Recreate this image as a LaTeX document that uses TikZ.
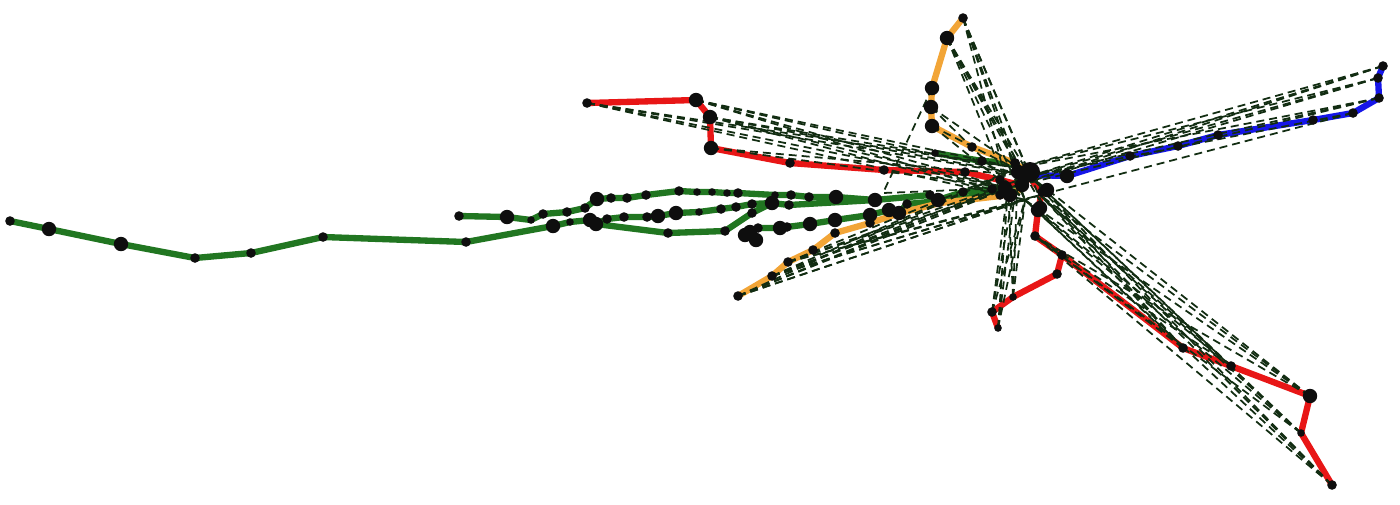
\documentclass[tikz,border=0pt]{standalone}
\begin{document}
\begin{tikzpicture}[x=0.1mm,y=-0.1mm,
  gline/.style={line width=1.8pt,draw={rgb,255:red,33;green,118;blue,33},line join=round},
  rline/.style={line width=1.8pt,draw={rgb,255:red,232;green,22;blue,22},line join=round},
  oline/.style={line width=1.8pt,draw={rgb,255:red,242;green,165;blue,55},line join=round},
  bline/.style={line width=1.8pt,draw={rgb,255:red,22;green,22;blue,232},line join=round},
  dl/.style={line width=0.5pt,draw={rgb,255:red,18;green,45;blue,18},dash pattern=on 0.8mm off 0.5mm}]
\useasboundingbox (0,0) rectangle (1400,504);
% long green
\coordinate (L1) at (10,221); \coordinate (L2) at (49,229); \coordinate (L3) at (121,244);
\coordinate (L4) at (195,258); \coordinate (L5) at (251,253); \coordinate (L6) at (323,237);
\coordinate (L7) at (466,242); \coordinate (L8) at (553,226); \coordinate (L9) at (570,222);
\coordinate (L10) at (590,220); \coordinate (L11) at (596,224); \coordinate (L12) at (668,233);
\coordinate (L13) at (725,231); \coordinate (L14) at (752,213); \coordinate (L15) at (772,203);
% middle green
\coordinate (M2) at (607,219); \coordinate (M3) at (624,217); \coordinate (M4) at (647,217);
\coordinate (M5) at (658,216); \coordinate (M6) at (676,213); \coordinate (M7) at (699,212);
\coordinate (M8) at (721,209); \coordinate (M9) at (736,207); \coordinate (M10) at (752,204);
\coordinate (M11) at (789,205);
% top green
\coordinate (A1) at (459,216); \coordinate (A2) at (507,217); \coordinate (A3) at (531,220);
\coordinate (A4) at (543,214); \coordinate (A5) at (567,212); \coordinate (A6) at (585,208);
\coordinate (A7) at (597,199); \coordinate (A8) at (611,198); \coordinate (A9) at (627,198);
\coordinate (A10) at (646,195); \coordinate (A11) at (679,191); \coordinate (A12) at (697,192);
\coordinate (A13) at (712,192); \coordinate (A14) at (727,193); \coordinate (A15) at (738,193);
\coordinate (A16) at (775,195); \coordinate (A17) at (791,195); \coordinate (A18) at (809,197);
\coordinate (A19) at (836,197); \coordinate (A20) at (875,200); \coordinate (A21) at (930,195);
\coordinate (A22) at (938,200); \coordinate (A23) at (963,192); \coordinate (A24) at (992,189);
\coordinate (A25) at (1015,185);
% lower short green
\coordinate (D0) at (745,235); \coordinate (D1) at (750,232); \coordinate (D1b) at (756,240);
\coordinate (D2) at (758,228); \coordinate (D3) at (780,228); \coordinate (D4) at (787,227);
\coordinate (D5) at (810,224); \coordinate (D6) at (835,220); \coordinate (D7) at (870,215);
\coordinate (D8) at (889,210); \coordinate (D9) at (899,213); \coordinate (D10) at (907,204);
\coordinate (D11) at (950,200); \coordinate (D12) at (1002,193);
% short green top
\coordinate (S1) at (935,153); \coordinate (S2) at (982,161); \coordinate (S3) at (1015,163);
% red upper
\coordinate (R1) at (587,103); \coordinate (R2) at (696,100); \coordinate (R3) at (710,117);
\coordinate (R4) at (711,148); \coordinate (R5) at (790,163); \coordinate (R6) at (884,170);
\coordinate (R7) at (965,172); \coordinate (R8) at (1000,180); \coordinate (R9) at (1020,185);
% red lower
\coordinate (Q1) at (1030,178); \coordinate (Q2) at (1042,192); \coordinate (Q3) at (1038,210);
\coordinate (Q4) at (1035,236); \coordinate (Q5) at (1062,255); \coordinate (Q6) at (1183,348);
\coordinate (Q7) at (1231,366); \coordinate (Q8) at (1310,396); \coordinate (Q9) at (1301,433);
\coordinate (Q10) at (1332,485);
\coordinate (P2) at (1057,274); \coordinate (P3) at (1013,297); \coordinate (P4) at (992,312);
\coordinate (P5) at (998,328);
% blue
\coordinate (U1) at (1030,175); \coordinate (U2) at (1067,176); \coordinate (U3) at (1130,156);
\coordinate (U4) at (1178,146); \coordinate (U5) at (1218,135); \coordinate (U6) at (1313,120);
\coordinate (U7) at (1353,113); \coordinate (U8) at (1379,98); \coordinate (U9) at (1378,78);
\coordinate (U10) at (1383,66);
% orange top
\coordinate (T1) at (963,18); \coordinate (T2) at (947,38); \coordinate (T3) at (932,88);
\coordinate (T4) at (931,107); \coordinate (T5) at (932,126); \coordinate (T6) at (972,147);
\coordinate (T7) at (1015,163);
% orange lower
\coordinate (V1) at (738,296); \coordinate (V2) at (772,276); \coordinate (V3) at (788,262);
\coordinate (V4) at (813,250); \coordinate (V5) at (835,233); \coordinate (V6) at (870,223);
\coordinate (V7) at (900,213); \coordinate (V8) at (940,203); \coordinate (V9) at (1000,196);
\coordinate (V10) at (1020,190);
% hub
\coordinate (H1) at (1030,172); \coordinate (H2) at (1018,172); \coordinate (H3) at (1005,188);
\coordinate (H4) at (1047,190); \coordinate (H5) at (1040,208); \coordinate (H6) at (1022,185);
\coordinate (H7) at (1010,195); \coordinate (H8) at (1000,195);
\coordinate (Ha) at (1018,168); \coordinate (Hb) at (1030,176); \coordinate (Hc) at (1008,188);
\coordinate (Hd) at (1040,195); \coordinate (He) at (1025,200); \coordinate (Hf) at (1045,210);
\coordinate (K) at (883,193);

% coloured lines
\draw[gline] (L1)--(L2)--(L3)--(L4)--(L5)--(L6)--(L7)--(L8)--(L9)--(L10)--(L11)--(L12)--(L13)--(L14)--(L15);
\draw[gline] (L11)--(M2)--(M3)--(M4)--(M5)--(M6)--(M7)--(M8)--(M9)--(M10)--(L15)--(M11)--(A20);
\draw[gline] (A1)--(A2)--(A3)--(A4)--(A5)--(A6)--(A7)--(A8)--(A9)--(A10)--(A11)--(A12)--(A13)--(A14)--(A15)--(A16)--(A17)--(A18)--(A19)--(A20)--(A21)--(A22)--(A23)--(A24)--(A25);
\draw[gline] (D1)--(D2)--(D3)--(D4)--(D5)--(D6)--(D7)--(D8)--(D9)--(D10)--(D11)--(D12);
\draw[gline] (S1)--(S2)--(S3);
\draw[oline] (V1)--(V2)--(V3)--(V4)--(V5)--(V6)--(V7)--(V8)--(V9)--(V10);
\draw[oline] (T1)--(T2)--(T3)--(T4)--(T5)--(T6)--(T7)--(U1);
\draw[rline] (R1)--(R2)--(R3)--(R4)--(R5)--(R6)--(R7)--(R8)--(R9);
\draw[rline] (Q1)--(Q2)--(Q3)--(Q4)--(Q5)--(Q6)--(Q7)--(Q8)--(Q9)--(Q10);
\draw[rline] (Q5)--(P2)--(P3)--(P4)--(P5);
\draw[bline] (U1)--(U2)--(U3)--(U4)--(U5)--(U6)--(U7)--(U8)--(U9)--(U10);

% dashed links
\foreach \s in {U10,U9,U8} \foreach \t in {Ha,Hb,Hc} \draw[dl] (\s)--(\t);
\foreach \t in {Hb,Hd} \draw[dl] (U7)--(\t);
\foreach \s in {R1,R2,R3} \foreach \t in {Ha,Hb,Hc,He} \draw[dl] (\s)--(\t);
\foreach \t in {Hb,Hc} \draw[dl] (R4)--(\t);
\foreach \s in {T1,T2} \foreach \t in {Ha,Hb,Hc,He,Hf} \draw[dl] (\s)--(\t);
\foreach \s in {T4,T5} \foreach \t in {Hb,He} \draw[dl] (\s)--(\t);
\draw[dl] (T3)--(K)--(Hc);
\foreach \s in {V1,V2,V3} \foreach \t in {Ha,Hb,Hc,Hd,He} \draw[dl] (\s)--(\t);
\foreach \s in {Q10,Q9,Q8,Q7,Q6} \foreach \t in {Hb,Hd,He,Q4} \draw[dl] (\s)--(\t);
\foreach \s in {P5,P4,P3} \foreach \t in {Ha,Hc,He} \draw[dl] (\s)--(\t);

% dots
\begin{scope}[fill={rgb,255:red,14;green,14;blue,14}]
\foreach \p in {L1,L4,L5,L6,L7,L12,L13,L14,M2,M3,M4,M8,M9,M10,M11,A1,A4,A5,A6,A8,A9,A10,A11,A15,A17,A18,A21,A23,A24,D2,D4,D10,S2,S3,R1,R5,R6,R7,R8,Q2,Q4,Q5,Q6,Q7,Q10,P2,P4,U3,U4,U5,U6,U7,U8,U9,U10,T1,T6,T7,V1,V2,V3,V4,V5,V6,H8} \fill (\p) circle (0.48mm);
\foreach \p in {L9,M7,A3,A12,A13,A14,A16,S1,Q9,P3,P5} \fill (\p) circle (0.38mm);
\foreach \p in {L2,L3,L8,L10,L11,L15,M5,M6,A2,A7,A19,A20,A22,D0,D1,D1b,D3,D5,D6,D7,D8,D9,R2,R3,R4,Q3,Q8,U2,T2,T3,T4,T5,H2,H3,H4,H5,H6,H7} \fill (\p) circle (0.72mm);
\fill (H1) circle (1.0mm);
\end{scope}
\end{tikzpicture}
\end{document}
